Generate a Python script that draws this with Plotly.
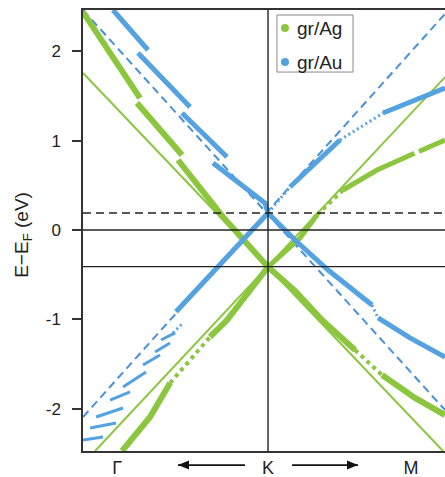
import plotly.graph_objects as go

# ---------------- data (k in arbitrary units, K point at 0; E in eV) ----------------
E_D_Ag = -0.41   # Dirac point gr/Ag (solid horizontal line)
E_D_Au = 0.19    # Dirac point gr/Au (dashed horizontal line)
E_F = 0.0

sym_k = [-1.69, 0.0, 1.60]
sym_labels = ["Γ", "K", "M"]

# direction arrows under the axis (head k, tail k)
arrow_head_k = [-1.008, 1.008]
arrow_tail_k = [-0.258, 0.269]

# straight Dirac-cone reference lines
ag_cone_k = [-2.072, 1.960, None, -1.937, 1.982]
ag_cone_E = [1.758, -2.475, None, -2.475, 1.713]
au_cone_k = [-2.072, 1.982, None, -2.072, 1.982]
au_cone_E = [2.464, -2.016, None, -2.094, 2.420]

# gr/Ag calculated bands (strong weight)
ag_band1_k = [-2.072, -1.433, None, -1.467, -0.963, None, -1.008, -0.504, 0.0, 0.302, 0.605, 0.974, None, 1.277, 1.646, 1.982]
ag_band1_E = [2.441, 1.478, None, 1.422, 0.840, None, 0.784, 0.146, -0.414, -0.683, -1.008, -1.344, None, -1.624, -1.881, -2.072]
ag_band2_k = [-1.635, -1.321, -1.097, None, -0.650, -0.459, 0.0]
ag_band2_E = [-2.475, -2.094, -1.713, None, -1.198, -1.008, -0.414]
ag_band3_k = [0.0, 0.358, 0.55, None, 0.840, 1.221, 1.640, None, 1.690, 1.982]
ag_band3_E = [-0.414, -0.090, 0.17, None, 0.448, 0.672, 0.860, None, 0.880, 1.008]
# gr/Ag weak-weight parts
ag_weak_k = [0.974, 1.277, None, -1.097, -0.650, None, 0.55, 0.840]
ag_weak_E = [-1.344, -1.624, None, -1.713, -1.198, None, 0.17, 0.448]

# gr/Au calculated bands (strong weight)
au_band1_k = [-1.736, -1.344, None, -1.456, -0.873, None, -0.963, -0.459, None, -0.616, -0.034, 0.0, 0.302, 0.672, 1.165, None, 1.232, 1.590, 1.982]
au_band1_E = [2.464, 2.016, None, 1.982, 1.377, None, 1.310, 0.817, None, 0.750, 0.302, 0.190, -0.112, -0.448, -0.840, None, -0.985, -1.209, -1.422]
au_band2_k = [-1.030, -0.50, 0.0, None, 0.246, 0.526, 0.806, None, 1.288, 1.781, 1.982]
au_band2_E = [-0.915, -0.35, 0.190, None, 0.482, 0.750, 1.008, None, 1.310, 1.512, 1.590]
# gr/Au fragmented branches near Γ (start k, start E, end k, end E)
au_frag_k0 = [-1.198, -1.265, -1.400, -1.624, -1.769, -1.926, -1.993, -2.072]
au_frag_E0 = [-1.232, -1.366, -1.512, -1.758, -1.904, -2.094, -2.217, -2.352]
au_frag_k1 = [-1.041, -1.097, -1.210, -1.366, -1.545, -1.624, -1.702, -1.848]
au_frag_E1 = [-1.153, -1.265, -1.400, -1.590, -1.814, -1.993, -2.161, -2.318]
au_weak_k = [0.0, 0.246, None, 0.806, 1.288, None, 1.165, 1.232, None, -1.064, -0.952]
au_weak_E = [0.190, 0.482, None, 1.008, 1.310, None, -0.840, -0.985, None, -1.153, -1.041]

legend_names = ["gr/Ag", "gr/Au"]

# ---------------- styling ----------------
GREEN = "rgb(140,198,63)"
BLUE = "rgb(84,162,224)"
DBLUE = "rgb(74,144,216)"
AXC = "#333333"
FONT = "Liberation Sans"

fig = go.Figure()

def add(k, E, color, width, dash="solid", opacity=1.0):
    fig.add_trace(go.Scatter(x=k, y=E, mode="lines", showlegend=False, hoverinfo="skip",
                             opacity=opacity,
                             line=dict(color=color, width=width, dash=dash)))

# cones
add(ag_cone_k, ag_cone_E, GREEN, 2)
add(au_cone_k, au_cone_E, DBLUE, 2, dash="8px,5px")
# weak parts
add(ag_weak_k, ag_weak_E, GREEN, 4, dash="4px,4px")
add(au_weak_k, au_weak_E, BLUE, 3, dash="2px,3px")
# fragments
fk, fE = [], []
for a, b, c, d in zip(au_frag_k0, au_frag_E0, au_frag_k1, au_frag_E1):
    fk += [a, c, None]
    fE += [b, d, None]
add(fk, fE, BLUE, 3)
# strong bands
add(ag_band1_k, ag_band1_E, GREEN, 6)
add(ag_band2_k, ag_band2_E, GREEN, 6)
add(ag_band3_k, ag_band3_E, GREEN, 5)
add(au_band1_k, au_band1_E, BLUE, 5)
add(au_band2_k, au_band2_E, BLUE, 5)

# reference lines
for yv, dsh in [(E_F, "solid"), (E_D_Ag, "solid"), (E_D_Au, "8px,5px")]:
    fig.add_shape(type="line", xref="paper", x0=0, x1=1, yref="y", y0=yv, y1=yv,
                  line=dict(color="#222222", width=1.4, dash=dsh), layer="above")
fig.add_shape(type="line", xref="x", x0=sym_k[1], x1=sym_k[1], yref="paper", y0=0, y1=1,
              line=dict(color="#222222", width=1.4), layer="above")

# legend (box + dots + text)
fig.add_shape(type="rect", xref="x", yref="y", x0=0.10, x1=0.952, y0=1.769, y1=2.408,
              line=dict(color="#8a8a8a", width=1), fillcolor="white", layer="above")
for ey, col, name in [(2.262, GREEN, legend_names[0]), (1.881, BLUE, legend_names[1])]:
    fig.add_shape(type="circle", xref="x", yref="y", xsizemode="pixel", ysizemode="pixel",
                  xanchor=0.19, yanchor=ey, x0=-4, x1=4, y0=-4, y1=4,
                  line=dict(color=col, width=0), fillcolor=col, layer="above")
    fig.add_annotation(x=0.302, y=ey, xref="x", yref="y", text=name, showarrow=False,
                       xanchor="left", yanchor="middle", font=dict(family=FONT, size=19, color="#222"))

# arrows below axis (Γ <- K -> M), drawn as shapes
ARROW_Y = -0.032
for head, tail in zip(arrow_head_k, arrow_tail_k):
    sgn = 1 if tail > head else -1
    fig.add_shape(type="line", xref="x", yref="paper", x0=tail, x1=head, y0=ARROW_Y, y1=ARROW_Y,
                  line=dict(color="#111111", width=1.6))
    fig.add_shape(type="path", xref="x", yref="paper", xsizemode="pixel", ysizemode="pixel",
                  xanchor=head, yanchor=ARROW_Y,
                  path=f"M0,0 L{11*sgn},4.5 L{11*sgn},-4.5 Z",
                  line=dict(color="#111111", width=0), fillcolor="#111111")

# y title
fig.add_annotation(x=-0.166, y=0.49, xref="paper", yref="paper", text="E−E<sub>F</sub> (eV)",
                   textangle=-90, showarrow=False, xanchor="center", yanchor="middle",
                   font=dict(family=FONT, size=19, color="#222"))

fig.update_layout(
    width=445, height=477,
    margin=dict(l=83, r=0, t=10, b=26),
    paper_bgcolor="white", plot_bgcolor="white",
    showlegend=False,
    font=dict(family=FONT, color="#222"),
    xaxis=dict(range=[-2.072, 1.982], showgrid=False, zeroline=False,
               showline=True, mirror=True, linecolor=AXC, linewidth=1.5,
               tickvals=sym_k, ticktext=sym_labels, ticks="",
               tickfont=dict(family=FONT, size=18, color="#222")),
    yaxis=dict(range=[-2.475, 2.464], showgrid=False, zeroline=False,
               showline=True, mirror=False, linecolor=AXC, linewidth=1.5,
               tickvals=[-2, -1, 0, 1, 2], ticktext=["-2", "-1", "0", "1", "2"],
               ticks="outside", ticklen=9, tickwidth=1.5, tickcolor=AXC,
               ticklabelstandoff=8,
               tickfont=dict(family=FONT, size=17, color="#222")),
)

fig.write_html("out.html")
